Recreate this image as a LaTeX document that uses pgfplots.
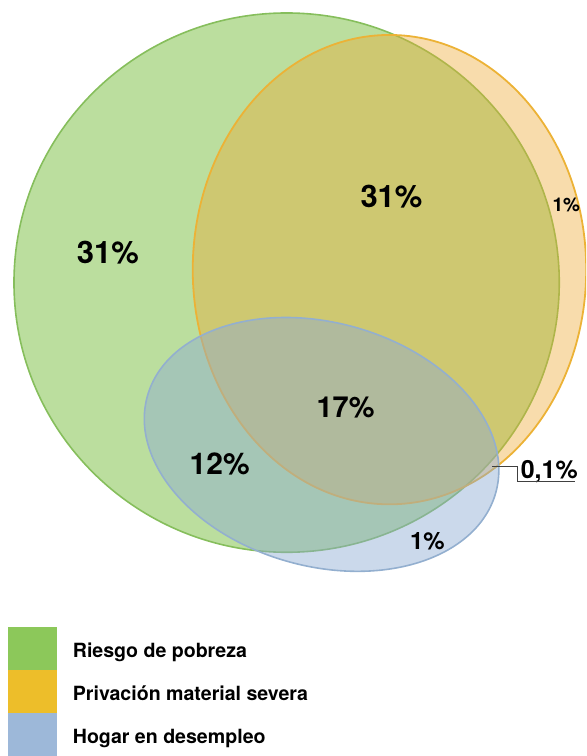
\documentclass[border=0pt]{standalone}
\usepackage{pgfplots}
\pgfplotsset{compat=1.18}
\usepackage{fontspec}
\setmainfont{TeX Gyre Heros}
\definecolor{gFill}{HTML}{8DC85E}
\definecolor{gEdge}{HTML}{86BE5C}
\definecolor{oFill}{HTML}{EDA830}
\definecolor{oEdge}{HTML}{ECB236}
\definecolor{bFill}{HTML}{8CAAD2}
\definecolor{bEdge}{HTML}{93AFCF}
\definecolor{lgGreen}{HTML}{8CC85A}
\definecolor{lgOrange}{HTML}{EDBE2A}
\definecolor{lgBlue}{HTML}{9DB8D9}
\begin{document}
\begin{tikzpicture}
\begin{axis}[
  scale only axis, width=293.5pt, height=378pt,
  xmin=0, xmax=587, ymin=0, ymax=756,
  hide axis, clip=true,
  legend style={at={(axis cs:8,128)}, anchor=north west, draw=none, fill=none,
    inner sep=0pt, outer sep=0pt, row sep=0pt, column sep=8pt,
    font=\bfseries\fontsize{9.8}{11}\selectfont, nodes={inner sep=0pt}},
  legend cell align=left,
  legend image code/.code={\path[#1, draw=none] (0pt,-9.25pt) rectangle (24.5pt,12.25pt);},
]
\path (axis cs:0,0) rectangle (axis cs:587,756);
% Riesgo de pobreza
\filldraw[fill=gFill, fill opacity=0.6, draw=gEdge, line width=0.8pt]
  (axis cs:287,473) ellipse [x radius=273, y radius=270];
% Privacion material severa
\filldraw[fill=oFill, fill opacity=0.4, draw=oEdge, line width=0.9pt]
  (axis cs:390,486) ellipse [x radius=197, y radius=235];
% Hogar en desempleo
\filldraw[fill=bFill, fill opacity=0.45, draw=bEdge, line width=0.8pt,
  rotate around={-15.4:(axis cs:322,311)}]
  (axis cs:322,311) ellipse [x radius=181, y radius=122];

\node[font=\bfseries\fontsize{15.5}{16}\selectfont] at (axis cs:108,503) {31\%};
\node[font=\bfseries\fontsize{15.5}{16}\selectfont] at (axis cs:392,559) {31\%};
\node[font=\bfseries\fontsize{9.5}{10}\selectfont] at (axis cs:567,551) {1\%};
\node[font=\bfseries\fontsize{14.5}{15}\selectfont] at (axis cs:346,348) {17\%};
\node[font=\bfseries\fontsize{15}{16}\selectfont] at (axis cs:220,291) {12\%};
\node[font=\bfseries\fontsize{12}{13}\selectfont] at (axis cs:428,214) {1\%};
\node[font=\bfseries\fontsize{12.5}{13}\selectfont] at (axis cs:550,284) {0,1\%};
\draw[black!75, line width=0.6pt] (axis cs:493,289) -- (axis cs:518,289)
  -- (axis cs:518,274) -- (axis cs:576,274);

\addlegendimage{fill=lgGreen}
\addlegendentry{Riesgo de pobreza}
\addlegendimage{fill=lgOrange}
\addlegendentry{Privación material severa}
\addlegendimage{fill=lgBlue}
\addlegendentry{Hogar en desempleo}
\end{axis}
\end{tikzpicture}
\end{document}
